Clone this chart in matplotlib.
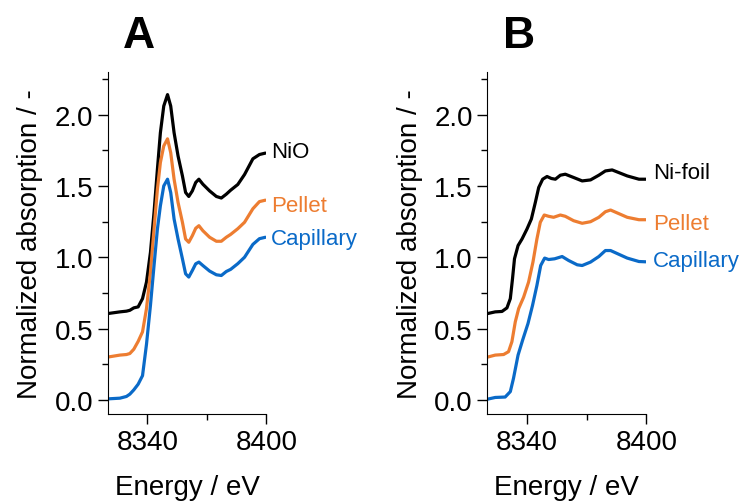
import matplotlib.pyplot as plt
from matplotlib.ticker import MultipleLocator

plt.rcParams["font.family"] = ["Liberation Sans", "DejaVu Sans"]

# panel A: NiO reference and the two sample geometries
e_a = [8320, 8326.2, 8329.5, 8331.2, 8333.2, 8335.4, 8337.6, 8339.6, 8341.6, 8343.4, 8345.1,
       8346.6, 8348.3, 8350.2, 8351.8, 8353.5, 8355.5, 8357.7, 8359.3, 8360.9, 8362.7,
       8364.4, 8366, 8368, 8371.4, 8374.8, 8377.3, 8379.8, 8382, 8385.6, 8389, 8393.2,
       8396.5, 8399.5]
nio = [0.605, 0.617, 0.622, 0.628, 0.645, 0.652, 0.71, 0.826, 1.035, 1.315, 1.617,
       1.873, 2.06, 2.14, 2.06, 1.873, 1.71, 1.57, 1.454, 1.426, 1.465,
       1.524, 1.547, 1.512, 1.465, 1.426, 1.415, 1.442, 1.47, 1.51, 1.58, 1.69,
       1.72, 1.73]
pellet_a = [0.30, 0.314, 0.318, 0.325, 0.355, 0.41, 0.477, 0.64, 0.896, 1.198, 1.477,
            1.664, 1.78, 1.83, 1.733, 1.547, 1.384, 1.245, 1.128, 1.105, 1.151,
            1.203, 1.221, 1.186, 1.14, 1.112, 1.112, 1.14, 1.16, 1.20, 1.245, 1.34,
            1.39, 1.40]
capillary_a = [0.007, 0.012, 0.024, 0.04, 0.07, 0.11, 0.17, 0.39, 0.663, 0.942, 1.198,
               1.361, 1.50, 1.547, 1.454, 1.268, 1.128, 0.989, 0.884, 0.861, 0.907,
               0.954, 0.966, 0.942, 0.903, 0.877, 0.872, 0.90, 0.915, 0.955, 1.00, 1.09,
               1.13, 1.14]

# panel B: Ni-foil reference and the two sample geometries
e_b_foil = [8320, 8323.9, 8327.3, 8329.8, 8331.5, 8332.6, 8333.6, 8335.4, 8337.4, 8339.9, 8342.1,
            8344.1, 8345.8, 8347.8, 8350, 8352.2, 8354.2, 8356.7, 8359.2, 8363.4, 8367.7,
            8371.9, 8376.1, 8379.4, 8382.8, 8390.4, 8396.3, 8399.7]
foil = [0.605, 0.617, 0.62, 0.645, 0.71, 0.849, 0.989, 1.082, 1.128, 1.198, 1.268,
        1.384, 1.489, 1.547, 1.566, 1.552, 1.547, 1.575, 1.582, 1.559, 1.535,
        1.542, 1.575, 1.605, 1.612, 1.57, 1.547, 1.547]

e_b_pel = [8320, 8323.9, 8328.1, 8330.6, 8332.3, 8334, 8335.7, 8338.2, 8340.7, 8342.9, 8344.9,
           8346.6, 8348.6, 8350.8, 8353.3, 8356.7, 8359.2, 8363.4, 8367.7, 8371.9, 8376.1,
           8379.4, 8382, 8390.4, 8396.3, 8399.7]
pellet_b = [0.30, 0.314, 0.318, 0.338, 0.408, 0.547, 0.64, 0.72, 0.826, 0.966, 1.128,
            1.245, 1.296, 1.287, 1.28, 1.296, 1.287, 1.256, 1.238, 1.249, 1.28,
            1.319, 1.331, 1.28, 1.263, 1.263]

e_b_cap = [8320, 8323.9, 8328.9, 8331.5, 8333.1, 8335.4, 8337.7, 8340.4, 8342.7, 8344.9, 8346.8,
           8348.8, 8350.8, 8353.8, 8357.6, 8360.9, 8365.2, 8367.7, 8371.9, 8376.1, 8379.4,
           8382, 8390.4, 8396.3, 8399.7]
capillary_b = [0.005, 0.017, 0.02, 0.058, 0.151, 0.314, 0.419, 0.535, 0.663, 0.803, 0.942,
               0.994, 0.984, 0.989, 1.005, 0.977, 0.947, 0.942, 0.966, 1.005, 1.047,
               1.047, 0.994, 0.97, 0.968]

BLACK = "black"
ORANGE = "#ED7D31"
BLUE = "#0A6AC8"


def style_axis(ax, letter):
    ax.set_xlim(8320, 8400)
    ax.set_ylim(-0.1, 2.3)
    ax.set_xticks([8340, 8400])
    ax.xaxis.set_minor_locator(MultipleLocator(30))
    ax.yaxis.set_major_locator(MultipleLocator(0.5))
    ax.yaxis.set_minor_locator(MultipleLocator(0.25))
    ax.yaxis.set_major_formatter(plt.FormatStrFormatter("%.1f"))
    for side in ("top", "right"):
        ax.spines[side].set_visible(False)
    ax.tick_params(which="major", direction="out", length=7, width=1, labelsize=20)
    ax.tick_params(which="minor", direction="out", length=4, width=1)
    ax.set_xlabel("Energy / eV", fontsize=20, labelpad=14)
    ax.set_ylabel("Normalized absorption / -", fontsize=20, labelpad=8)
    ax.text(0.2, 1.105, letter, transform=ax.transAxes, fontsize=32,
            fontweight="bold", ha="center", va="center")


fig = plt.figure(figsize=(7.42, 5.02), dpi=100)
ax_a = fig.add_axes([0.145, 0.173, 0.214, 0.682])
ax_b = fig.add_axes([0.657, 0.173, 0.214, 0.682])

kw = dict(lw=2.3, solid_joinstyle="round", solid_capstyle="round")
ax_a.plot(e_a, nio, color=BLACK, **kw)
ax_a.plot(e_a, pellet_a, color=ORANGE, **kw)
ax_a.plot(e_a, capillary_a, color=BLUE, **kw)
ax_a.text(8402.5, 1.74, "NiO", color=BLACK, fontsize=16, va="center")
ax_a.text(8402.5, 1.36, "Pellet", color=ORANGE, fontsize=16, va="center")
ax_a.text(8402.5, 1.13, "Capillary", color=BLUE, fontsize=16, va="center")
style_axis(ax_a, "A")

ax_b.plot(e_b_foil, foil, color=BLACK, **kw)
ax_b.plot(e_b_pel, pellet_b, color=ORANGE, **kw)
ax_b.plot(e_b_cap, capillary_b, color=BLUE, **kw)
ax_b.text(8403.5, 1.595, "Ni-foil", color=BLACK, fontsize=16, va="center")
ax_b.text(8403.5, 1.24, "Pellet", color=ORANGE, fontsize=16, va="center")
ax_b.text(8403.5, 0.98, "Capillary", color=BLUE, fontsize=16, va="center")
style_axis(ax_b, "B")

fig.savefig("out.png", dpi=100)
